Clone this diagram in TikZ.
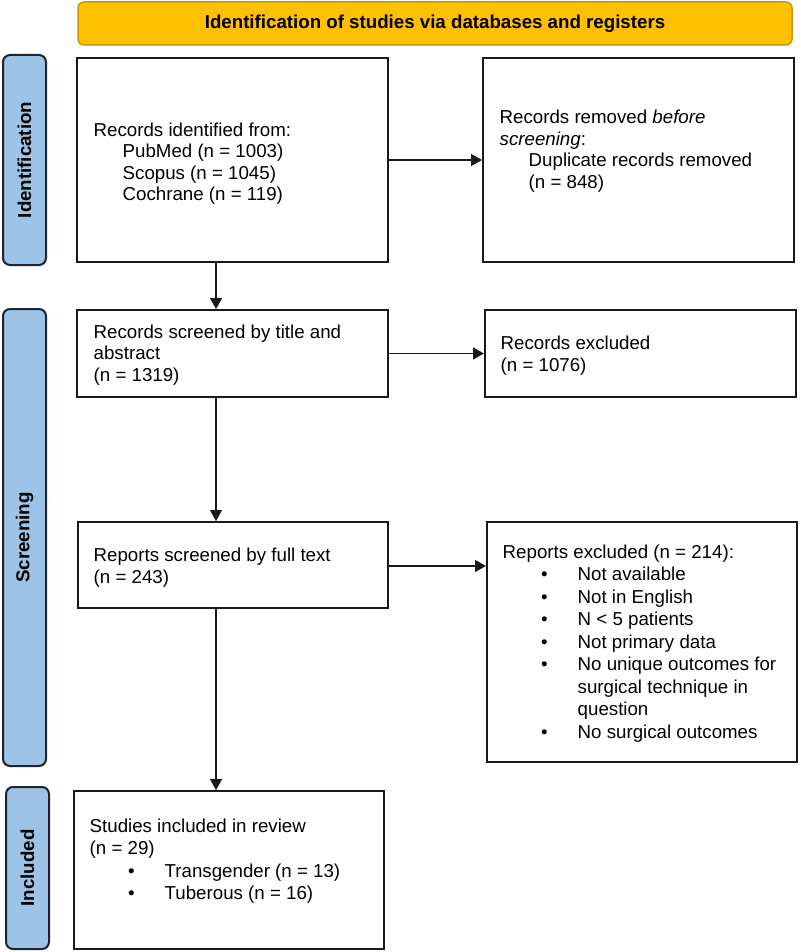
\documentclass[tikz,border=0pt]{standalone}
\usepackage{fontspec}
\setmainfont{Liberation Sans}
\usetikzlibrary{arrows.meta}
\definecolor{bannerfill}{HTML}{FFC000}
\definecolor{bannerdraw}{HTML}{C49A00}
\definecolor{phasefill}{HTML}{9DC3E6}
\definecolor{phasedraw}{HTML}{1B2430}
\definecolor{boxdraw}{HTML}{1A1A1A}
\tikzset{
  banner/.style={draw=bannerdraw, fill=bannerfill, line width=1.5pt, rounded corners=6pt, inner sep=0pt},
  phase/.style={draw=phasedraw, fill=phasefill, line width=2pt, rounded corners=7pt, inner sep=0pt, rotate=90},
  flowbox/.style={draw=boxdraw, line width=2pt, inner sep=0pt},
  txt/.style={inner sep=0pt, align=left, anchor=base west},
  conn/.style={line width=1.3pt, draw=boxdraw, -{Triangle[length=11pt,width=12pt]}}
}
\newcommand{\bul}{\hspace*{38.5pt}\makebox[36.5pt][l]{•}}
\newcommand{\hang}{\hspace*{75pt}}
\begin{document}
\begin{tikzpicture}[x=1pt,y=-1pt, every node/.style={font=\fontsize{18.7}{21.5}\selectfont}]
\useasboundingbox (0,0) rectangle (800,952);
% banner
\node[banner, minimum width=714pt, minimum height=43pt, font=\fontsize{18.7}{21.5}\selectfont\bfseries] (ban) at (435,23.5) {Identification of studies via databases and registers};
% phases
\node[phase, minimum width=210pt, minimum height=43pt, font=\fontsize{18.7}{21.5}\selectfont\bfseries] (pid) at (24.5,160) {Identification};
\node[phase, minimum width=457pt, minimum height=43pt, font=\fontsize{18.7}{21.5}\selectfont\bfseries] (psc) at (24.5,537.5) {Screening};
\node[phase, minimum width=162pt, minimum height=43pt, font=\fontsize{18.7}{21.5}\selectfont\bfseries] (pin) at (27.5,868) {Included};
% boxes
\node[flowbox, minimum width=311pt, minimum height=204pt] (A) at (232.5,160) {};
\node[flowbox, minimum width=311pt, minimum height=204pt] (B) at (638.5,160) {};
\node[flowbox, minimum width=311pt, minimum height=87pt] (C) at (232.5,353.5) {};
\node[flowbox, minimum width=311pt, minimum height=87pt] (D) at (640.5,353.5) {};
\node[flowbox, minimum width=310pt, minimum height=86pt] (E) at (233,565) {};
\node[flowbox, minimum width=310pt, minimum height=240pt] (F) at (642,642) {};
\node[flowbox, minimum width=310pt, minimum height=158pt] (G) at (229,870) {};
% texts (anchored at the baseline of their last line)
\node[txt] (tA) at (93.5,200.5) {Records identified from:\\\hspace*{29pt}PubMed (n = 1003)\\\hspace*{29pt}Scopus (n = 1045)\\\hspace*{29pt}Cochrane (n = 119)};
\node[txt] (tB) at (499.5,188.5) {Records removed \textit{before}\\\textit{screening}:\\\hspace*{29pt}Duplicate records removed\\\hspace*{29pt}(n = 848)};
\node[txt] (tC) at (93.5,381) {Records screened by title and\\abstract\\(n = 1319)};
\node[txt] (tD) at (500.5,371) {Records excluded\\(n = 1076)};
\node[txt] (tE) at (93.5,583) {Reports screened by full text\\(n = 243)};
\node[txt, font=\fontsize{18.7}{22.5}\selectfont] (tF) at (502.5,738.3) {Reports excluded (n = 214):\\\bul Not available\\\bul Not in English\\\bul N < 5 patients\\\bul Not primary data\\\bul No unique outcomes for\\\hang surgical technique in\\\hang question\\\bul No surgical outcomes};
\node[txt, font=\fontsize{18.7}{22.2}\selectfont] (tG) at (89.5,899.3) {Studies included in review\\(n = 29)\\\bul Transgender (n = 13)\\\bul Tuberous (n = 16)};
% connectors
\coordinate (col) at (216,0);
\draw[conn] (A.east) -- (B.west);
\draw[conn] (C.east) -- (D.west |- C.east);
\draw[conn] (E.east |- 0,566) -- (F.west |- 0,566);
\draw[conn] (A.south -| col) -- (C.north -| col);
\draw[conn] (C.south -| col) -- (E.north -| col);
\draw[conn] (E.south -| col) -- (G.north -| col);
\end{tikzpicture}
\end{document}
